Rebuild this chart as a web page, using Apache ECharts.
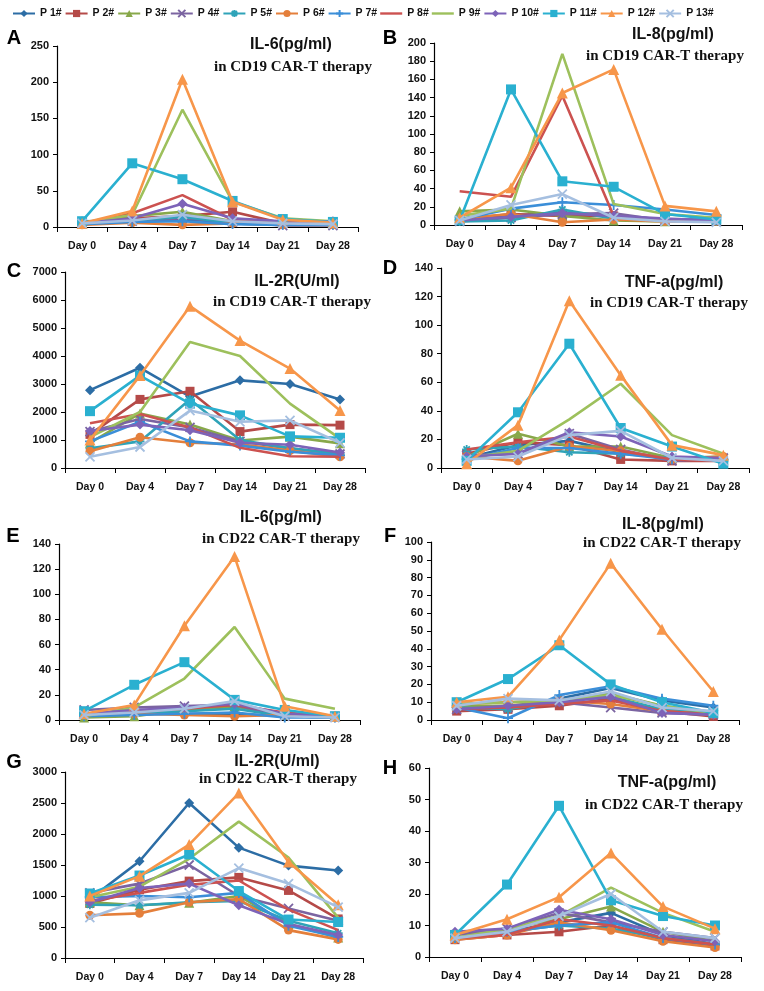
<!DOCTYPE html>
<html><head><meta charset="utf-8">
<script src="https://cdn.jsdelivr.net/npm/echarts/dist/echarts.min.js"></script>
<style>html,body{margin:0;padding:0;background:#fff}#c{width:764px;height:991px}</style>
</head><body><div id="c"></div>
<script>
// ---------- data ----------
const days = ['Day 0', 'Day 4', 'Day 7', 'Day 14', 'Day 21', 'Day 28'];
const patients = ['P 1#', 'P 2#', 'P 3#', 'P 4#', 'P 5#', 'P 6#', 'P 7#', 'P 8#', 'P 9#', 'P 10#', 'P 11#', 'P 12#', 'P 13#'];

// rows = P1..P13, columns = days
const il6CD19 = [
  [6, 8, 10, 5, 3, 3], [4, 12, 15, 21, 5, 4], [4, 15, 21, 8, 6, 5], [5, 8, 12, 7, 2, 2],
  [8, 9, 14, 6, 4, 4], [3, 6, 3, 5, 3, 3], [4, 7, 8, 4, 3, 3], [5, 19, 44, 10, 6, 5],
  [5, 17, 162, 35, 12, 8], [5, 12, 32, 12, 8, 8], [8, 88, 66, 36, 11, 7], [5, 22, 204, 35, 10, 6],
  [5, 9, 17, 8, 5, 4]
];
const il8CD19 = [
  [5, 10, 14, 10, 6, 6], [6, 12, 10, 10, 5, 5], [15, 17, 10, 5, 4, 5], [4, 8, 12, 13, 5, 4],
  [4, 5, 17, 7, 5, 4], [7, 12, 3, 6, 4, 4], [6, 18, 25, 22, 17, 11], [37, 31, 142, 10, 5, 5],
  [10, 18, 188, 23, 12, 8], [5, 9, 13, 10, 7, 5], [5, 149, 48, 42, 12, 6], [8, 41, 145, 171, 21, 15],
  [5, 22, 34, 8, 4, 3]
];
const il2rCD19 = [
  [2780, 3580, 2550, 3130, 3000, 2450], [1200, 2450, 2740, 1300, 1550, 1530], [900, 1950, 1550, 980, 1120, 880],
  [1300, 1750, 1450, 950, 700, 500], [700, 950, 2450, 1000, 700, 500], [600, 1100, 900, 850, 620, 400],
  [950, 1650, 950, 800, 580, 450], [1600, 1930, 1450, 720, 420, 400], [1100, 2000, 4500, 4000, 2300, 1050],
  [1320, 1550, 1350, 900, 830, 550], [2030, 3300, 2300, 1880, 1130, 1080], [1000, 3300, 5780, 4550, 3550, 2050],
  [400, 750, 2050, 1650, 1700, 900]
];
const tnfCD19 = [
  [7, 16, 19, 11, 7, 6], [10, 18, 16, 6, 5, 5], [8, 24, 15, 15, 7, 8], [9, 10, 24, 13, 5, 7],
  [13, 15, 11, 10, 7, 5], [8, 5, 15, 12, 6, 8], [6, 14, 14, 10, 6, 6], [13, 18, 22, 12, 6, 5],
  [7, 12, 34, 59, 23, 10], [8, 10, 25, 22, 8, 7], [5, 39, 87, 28, 15, 3], [3, 30, 117, 65, 16, 9],
  [6, 8, 23, 26, 7, 5]
];
const il6CD22 = [
  [4, 5, 5, 5, 3, 2], [5, 6, 7, 11, 4, 3], [2, 3, 8, 11, 4, 3], [8, 10, 11, 12, 3, 2],
  [5, 5, 7, 9, 3, 2], [5, 5, 4, 3, 4, 3], [3, 4, 5, 6, 2, 2], [5, 7, 9, 12, 6, 3],
  [3, 10, 33, 74, 17, 9], [5, 8, 10, 13, 5, 3], [7, 28, 46, 16, 8, 3], [5, 12, 75, 130, 11, 3],
  [4, 6, 9, 15, 3, 2]
];
const il8CD22 = [
  [7, 6, 12, 18, 11, 7], [5, 6, 8, 12, 5, 2], [8, 8, 11, 15, 8, 4], [6, 7, 10, 7, 4, 3],
  [7, 6, 11, 13, 6, 4], [9, 10, 11, 9, 5, 3], [7, 1, 14, 19, 12, 8], [6, 7, 9, 11, 5, 3],
  [9, 10, 11, 14, 8, 4], [6, 8, 10, 13, 4, 3], [10, 23, 42, 20, 10, 4], [10, 13, 45, 88, 51, 16],
  [8, 12, 11, 16, 7, 5]
];
const il2rCD22 = [
  [950, 1560, 2500, 1780, 1490, 1410], [880, 1100, 1240, 1300, 1090, 630], [900, 850, 890, 1000, 550, 330],
  [1050, 1200, 1500, 1000, 800, 600], [860, 850, 900, 920, 600, 400], [690, 720, 900, 950, 450, 300],
  [980, 1000, 980, 1050, 520, 340], [920, 1050, 1180, 1250, 780, 450], [980, 1150, 1600, 2200, 1620, 650],
  [900, 1130, 1200, 850, 550, 370], [1040, 1330, 1670, 1080, 620, 580], [1000, 1320, 1830, 2660, 1550, 860],
  [650, 930, 1050, 1450, 1200, 820]
];
const tnfCD22 = [
  [6, 8, 11, 14, 7, 4], [5.5, 7, 8, 10, 5.5, 3.5], [7, 9, 12, 16, 8, 5], [7, 9, 14, 11, 8, 6],
  [6, 8, 10, 9, 6, 4], [5.5, 7, 11, 8.5, 5, 3], [6, 8, 10, 11, 6, 4], [6, 7, 12, 10, 6, 4],
  [6, 9, 13, 22, 14, 8], [8, 9, 15, 12, 7, 5], [7, 23, 48, 18, 13, 10], [7, 12, 19, 33, 16, 9],
  [6, 8, 13, 20, 8, 6]
];

const yMax = [250, 200, 7000, 140, 140, 100, 3000, 60];
const yStep = [50, 20, 1000, 20, 20, 10, 500, 10];
const panelLetters = ['A', 'B', 'C', 'D', 'E', 'F', 'G', 'H'];
const titles = ['IL-6(pg/ml)', 'IL-8(pg/ml)', 'IL-2R(U/ml)', 'TNF-a(pg/ml)', 'IL-6(pg/ml)', 'IL-8(pg/ml)', 'IL-2R(U/ml)', 'TNF-a(pg/ml)'];
const subtitles = ['in CD19 CAR-T therapy', 'in CD19 CAR-T therapy', 'in CD19 CAR-T therapy', 'in CD19 CAR-T therapy',
  'in CD22 CAR-T therapy', 'in CD22 CAR-T therapy', 'in CD22 CAR-T therapy', 'in CD22 CAR-T therapy'];

// ---------- layout / style ----------
const panels = [il6CD19, il8CD19, il2rCD19, tnfCD19, il6CD22, il8CD22, il2rCD22, tnfCD22];
const grids = [
  [57, 46, 301, 181], [434, 43, 308, 182],
  [65, 272, 300, 196], [441, 268, 308, 200],
  [59, 544, 301, 176], [431, 542, 308, 178],
  [65, 772, 298, 186], [429, 768, 312, 189]
];
const letterPos = [[14, 38], [390, 38], [14, 271], [390, 268], [13, 536], [390, 536], [14, 762], [390, 768]];
const titlePos = [[291, 45], [673, 35], [297, 282], [674, 283], [281, 518], [663, 525], [277, 762], [667, 783]];
const subPos = [[293, 67], [665, 56], [292, 302], [669, 303], [281, 539], [662, 543], [278, 779], [664, 805]];

const colors = ['#2C6DA5', '#B54A48', '#88A84A', '#7B64A1', '#2FA3B8', '#E47F3B', '#3B8ED8',
  '#CC5250', '#9DC05C', '#7D63B8', '#2AB0D0', '#F7964A', '#A5BFE0'];
const X = 'path://M0,0L10,10M10,0L0,10';
const STAR = 'path://M5,0L5,10M0,5L10,5M1.5,1.5L8.5,8.5M8.5,1.5L1.5,8.5';
const PLUS = 'path://M5,0L5,10M0,5L10,5';
const LINE_ICON = 'path://M0,0L24,0L24,2.6L0,2.6Z';
const symbols = ['diamond', 'rect', 'triangle', X, STAR, 'circle', PLUS, 'none', 'none', 'diamond', 'rect', 'triangle', X];
const strokeSym = [false, false, false, true, true, false, true, false, false, false, false, false, true];
const symSize = [10, 9, 10, 9, 9, 9, 10, 0, 0, 10, 10, 11, 9];

const axisTextCol = '#111';
const grid = [], xAxis = [], yAxis = [], series = [], graphic = [];
panels.forEach((pd, g) => {
  const b = grids[g];
  grid.push({ left: b[0], top: b[1], width: b[2], height: b[3], containLabel: false });
  xAxis.push({
    type: 'category', gridIndex: g, data: days, boundaryGap: true,
    axisLine: { lineStyle: { color: '#000', width: 1.2 } },
    axisTick: { show: true, length: 5, lineStyle: { color: '#000' } },
    axisLabel: { margin: 14, color: axisTextCol, fontWeight: 'bold', fontSize: 10.5, fontFamily: 'Liberation Sans, Arial, sans-serif' },
    splitLine: { show: false }
  });
  yAxis.push({
    type: 'value', gridIndex: g, min: 0, max: yMax[g], interval: yStep[g],
    axisLine: { show: true, lineStyle: { color: '#000', width: 1.2 } },
    axisTick: { show: true, length: 4, lineStyle: { color: '#000' } },
    axisLabel: { margin: 8, color: axisTextCol, fontWeight: 'bold', fontSize: 11, fontFamily: 'Liberation Sans, Arial, sans-serif',
      formatter: v => String(v) },
    splitLine: { show: false }
  });
  pd.forEach((vals, i) => {
    series.push({
      type: 'line', name: patients[i], xAxisIndex: g, yAxisIndex: g, data: vals,
      symbol: symbols[i], symbolSize: symSize[i], showSymbol: symbols[i] !== 'none',
      lineStyle: { color: colors[i], width: 2.6 },
      itemStyle: strokeSym[i]
        ? { color: colors[i], borderColor: colors[i], borderWidth: 1.8 }
        : { color: colors[i], borderColor: colors[i], borderWidth: 0 },
      emphasis: { disabled: true },
      z: 2 + i * 0.01
    });
  });
  graphic.push({
    type: 'text', x: letterPos[g][0], y: letterPos[g][1],
    style: { text: panelLetters[g], font: 'bold 20px "Liberation Sans", Arial, sans-serif', fill: '#000', textAlign: 'center', textVerticalAlign: 'middle' }
  });
  graphic.push({
    type: 'text', x: titlePos[g][0], y: titlePos[g][1],
    style: { text: titles[g], font: 'bold 16px "Liberation Sans", Arial, sans-serif', fill: '#111', textAlign: 'center', textVerticalAlign: 'middle' }
  });
  graphic.push({
    type: 'text', x: subPos[g][0], y: subPos[g][1],
    style: { text: subtitles[g], font: 'bold 15px "Liberation Serif", "Times New Roman", serif', fill: '#111', textAlign: 'center', textVerticalAlign: 'middle' }
  });
});

const legendData = patients.map((p, i) => symbols[i] === 'none'
  ? { name: p, icon: LINE_ICON, itemStyle: { color: colors[i] } }
  : { name: p });

const chart = echarts.init(document.getElementById('c'), null, { renderer: 'canvas' });
chart.setOption({
  animation: false,
  backgroundColor: '#fff',
  legend: {
    data: legendData, left: 12, top: 8, padding: 0, itemWidth: 22, itemHeight: 9, itemGap: 3,
    textStyle: { fontWeight: 'bold', fontSize: 10.5, color: '#111', fontFamily: 'Liberation Sans, Arial, sans-serif' }
  },
  grid, xAxis, yAxis, series, graphic
});
</script>
</body></html>
